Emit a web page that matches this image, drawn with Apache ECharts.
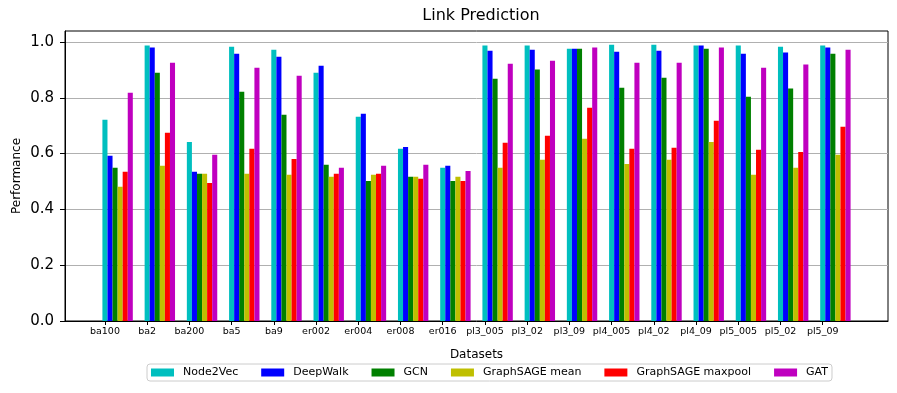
<!DOCTYPE html>
<html>
<head>
<meta charset="utf-8">
<script src="https://cdn.jsdelivr.net/npm/echarts@6/dist/echarts.min.js"></script>
<style>
    html, body { margin: 0; padding: 0; background: #fff; }
    #chart { width: 897px; height: 393px; }
</style>
</head>
<body>
<div id="chart"></div>
<script>
// 資料
const datasets = ['ba100', 'ba2', 'ba200', 'ba5', 'ba9', 'er002', 'er004', 'er008', 'er016',
    'pl3_005', 'pl3_02', 'pl3_09', 'pl4_005', 'pl4_02', 'pl4_09', 'pl5_005', 'pl5_02', 'pl5_09']

const node2vec = [0.721, 0.987, 0.642, 0.983, 0.972, 0.890, 0.732, 0.617, 0.549,
    0.987, 0.987, 0.976, 0.990, 0.990, 0.987, 0.987, 0.983, 0.987]
const deepwalk = [0.592, 0.980, 0.535, 0.958, 0.947, 0.915, 0.743, 0.624, 0.556,
    0.969, 0.972, 0.976, 0.965, 0.969, 0.987, 0.958, 0.962, 0.980]
const gcn = [0.549, 0.890, 0.528, 0.822, 0.739, 0.560, 0.502, 0.517, 0.502,
    0.868, 0.901, 0.976, 0.836, 0.872, 0.976, 0.804, 0.833, 0.958]
const sageMean = [0.481, 0.556, 0.528, 0.528, 0.524, 0.517, 0.524, 0.517, 0.517,
    0.549, 0.578, 0.653, 0.563, 0.578, 0.642, 0.524, 0.549, 0.596]
const sageMaxpool = [0.535, 0.675, 0.495, 0.617, 0.581, 0.528, 0.528, 0.510, 0.502,
    0.639, 0.664, 0.764, 0.617, 0.621, 0.718, 0.614, 0.606, 0.696]
const gat = [0.818, 0.926, 0.596, 0.908, 0.879, 0.549, 0.556, 0.560, 0.538,
    0.922, 0.933, 0.980, 0.926, 0.926, 0.980, 0.908, 0.919, 0.972]

const seriesNames = ['Node2Vec', 'DeepWalk', 'GCN', 'GraphSAGE mean', 'GraphSAGE maxpool', 'GAT']
const seriesValues = [node2vec, deepwalk, gcn, sageMean, sageMaxpool, gat]
const colors = ['#00bfbf', '#0000ff', '#008000', '#bfbf00', '#ff0000', '#bf00bf']
const yTicks = [0, 0.2, 0.4, 0.6, 0.8, 1.0]

const font = 'DejaVu Sans'
const xMin = -0.946
const xMax = 18.546
const barW = 0.12 * 823 / (xMax - xMin)

const chart = echarts.init(document.getElementById('chart'), null, { renderer: 'canvas' })

chart.setOption({
    animation: false,
    color: colors,
    title: {
        text: 'Link Prediction',
        left: 476,
        textAlign: 'center',
        top: 3,
        textStyle: { fontFamily: font, fontSize: 16, fontWeight: 'normal', color: '#000' }
    },
    legend: {
        data: seriesNames,
        left: 147,
        top: 364,
        itemWidth: 23,
        itemHeight: 8,
        itemGap: 23,
        padding: [3, 4, 3, 4],
        borderColor: '#cccccc',
        borderWidth: 1,
        borderRadius: 3,
        icon: 'rect',
        textStyle: { fontFamily: font, fontSize: 11, color: '#000', padding: [0, 0, 0, 4] }
    },
    grid: {
        left: 65, right: 9, top: 31, bottom: 72,
        show: true, borderColor: '#000', borderWidth: 1
    },
    xAxis: {
        type: 'value',
        min: xMin,
        max: xMax,
        name: 'Datasets',
        nameLocation: 'middle',
        nameGap: 28,
        nameMoveOverlap: false,
        nameTextStyle: { fontFamily: font, fontSize: 12, color: '#000' },
        axisLine: { show: true, onZero: false, lineStyle: { color: '#000' } },
        axisTick: { show: true, length: 4, customValues: datasets.map((d, i) => i), lineStyle: { color: '#000' } },
        axisLabel: {
            customValues: datasets.map((d, i) => i),
            formatter: v => datasets[Math.round(v)],
            fontFamily: font, fontSize: 9.5, color: '#000', margin: 6
        },
        splitLine: { show: false }
    },
    yAxis: {
        type: 'value',
        min: 0,
        max: 1.0394,
        name: 'Performance',
        nameLocation: 'middle',
        nameGap: 42,
        nameMoveOverlap: false,
        nameTextStyle: { fontFamily: font, fontSize: 12, color: '#000' },
        axisLine: { show: true, onZero: false, lineStyle: { color: '#000' } },
        axisTick: { show: true, length: 5, customValues: yTicks, lineStyle: { color: '#000' } },
        axisLabel: {
            customValues: yTicks,
            formatter: v => v.toFixed(1),
            fontFamily: font, fontSize: 15, color: '#000', margin: 11
        },
        splitLine: { show: true, lineStyle: { color: '#b0b0b0', width: 1 } }
    },
    series: seriesNames.map((name, k) => ({
        name: name,
        type: 'bar',
        barWidth: barW,
        barGap: '0%',
        data: seriesValues[k].map((v, i) => [i + 0.3, v]),
        itemStyle: { color: colors[k] }
    }))
})
</script>
</body>
</html>
